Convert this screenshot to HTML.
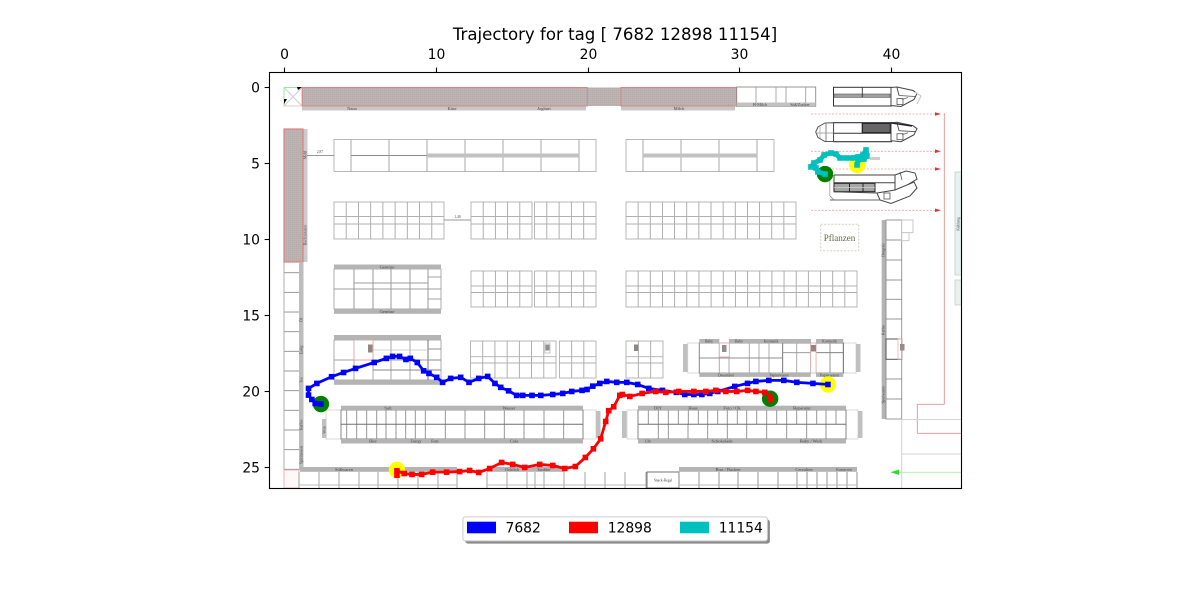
<!DOCTYPE html>
<html lang="en">
<head>
<meta charset="utf-8">
<title>Trajectory for tag</title>
<style>
html,body{margin:0;padding:0;background:#fff;width:1200px;height:600px;overflow:hidden}
svg{display:block;font-family:"DejaVu Sans","Liberation Sans",sans-serif}
</style>
</head>
<body>
<svg id="fig" xmlns="http://www.w3.org/2000/svg" width="1200" height="600" viewBox="0 0 1200 600">
  <defs>
    <filter id="soft" x="-2%" y="-2%" width="104%" height="104%"><feGaussianBlur stdDeviation="0.35"/></filter>
    <pattern id="hatch" width="2" height="2" patternUnits="userSpaceOnUse"><rect width="2" height="2" fill="#bdb3b3"/><rect width="1" height="1" fill="#b6abab"/></pattern>
    <clipPath id="axclip"><rect x="269.5" y="72.5" width="692" height="416"/></clipPath>
  </defs>
  <rect width="1200" height="600" fill="#fff"/>
  <text x="615" y="40" text-anchor="middle" font-size="16.6" fill="#000">Trajectory for tag [ 7682 12898 11154]</text>
  <g id="plan" clip-path="url(#axclip)" filter="url(#soft)"></g>
  <g id="marks" clip-path="url(#axclip)"></g>
  <rect x="269.5" y="72.5" width="692" height="416" fill="none" stroke="#000" stroke-width="1.1"/>
  <g id="xaxis"></g>
  <g id="yaxis"></g>
  <g>
    <rect x="465.4" y="519.6" width="304.5" height="24" rx="2.5" fill="#8c8c8c"/>
    <rect x="462.9" y="516.9" width="304.5" height="24" rx="2.5" fill="#fff" stroke="#cccccc" stroke-width="1"/>
    <g>
      <rect x="467" y="521.7" width="29" height="11.6" fill="#0000ff"/>
      <text x="505.5" y="532.4" font-size="13.89">7682</text>
    </g>
    <g>
      <rect x="569" y="521.7" width="29" height="11.6" fill="#ff0000"/>
      <text x="607.7" y="532.4" font-size="13.89">12898</text>
    </g>
    <g>
      <rect x="680" y="521.7" width="29" height="11.6" fill="#00bfbf"/>
      <text x="718.7" y="532.4" font-size="13.89">11154</text>
    </g>
  </g>
</svg>
<script>
/* ---------- chart data (x / y in plot units) ---------- */
const xTicks = [0, 10, 20, 30, 40];
const yTicks = [0, 5, 10, 15, 20, 25];

const blueX = [2.39,2.01,1.79,1.57,1.57,2.12,3.09,3.88,4.67,5.90,6.70,7.11,7.57,7.99,8.28,8.74,9.16,9.51,10.02,10.41,10.94,11.60,12.15,12.79,13.38,13.86,14.24,14.76,15.29,15.69,16.30,16.88,17.67,18.33,18.92,19.60,19.93,20.31,20.77,21.23,21.89,22.55,23.27,24.00,24.90,25.82,26.37,26.97,27.50,28.02,28.55,29.67,30.51,31.06,31.91,32.90,33.76,34.82,35.81];
const blueY = [20.84,20.80,20.54,20.25,19.81,19.48,19.04,18.76,18.49,18.10,17.83,17.70,17.70,17.90,17.83,18.10,18.65,18.82,19.08,19.41,19.15,19.08,19.41,19.15,19.02,19.48,19.74,19.97,20.27,20.27,20.27,20.27,20.21,20.14,20.01,19.94,19.88,19.66,19.48,19.35,19.41,19.41,19.55,19.81,19.94,20.07,20.21,20.21,20.21,20.14,20.01,19.68,19.48,19.35,19.28,19.28,19.41,19.48,19.55];

const redX = [7.40,7.40,7.88,8.39,9.03,9.75,10.67,11.53,12.19,12.79,13.51,14.30,15.03,15.82,16.81,17.67,18.46,19.16,19.82,20.35,20.83,21.16,21.36,21.69,22.09,22.26,22.75,23.56,24.46,25.12,25.98,26.97,27.76,28.42,29.08,29.80,30.51,31.06,31.65,31.98,32.05];
const redY = [25.53,25.24,25.42,25.48,25.48,25.33,25.33,25.29,25.22,25.35,25.09,24.69,24.82,25.02,24.82,24.89,25.09,24.96,24.36,23.79,23.13,21.99,21.28,21.02,20.27,20.21,20.34,20.14,20.01,20.07,20.01,20.01,20.01,19.94,20.01,20.01,19.94,20.01,20.07,20.34,20.54];

const cyanX = [35.62,35.15,35.02,34.69,34.89,35.29,35.56,36.01,36.34,36.61,37.01,37.40,37.79,38.12,38.32,38.38,38.18,37.79,37.73];
const cyanY = [5.68,5.54,5.28,5.21,4.95,4.75,4.42,4.29,4.36,4.62,4.62,4.62,4.55,4.42,4.09,4.49,4.69,4.75,5.08];

const startX = [2.39, 32.00, 35.62];
const startY = [20.84, 20.49, 5.68];
const endX = [35.81, 7.40, 37.74];
const endY = [19.55, 25.18, 5.08];

const seriesNames = ['7682', '12898', '11154'];

/* ---------- axis functions ---------- */
function xScale(v) { return 284.7 + 15.17 * v; }
function yScale(v) { return 87.9 + 15.17 * v; }

const NS = 'http://www.w3.org/2000/svg';
const plan = document.getElementById('plan');
const marks = document.getElementById('marks');
const xaxis = document.getElementById('xaxis');
const yaxis = document.getElementById('yaxis');

/* ---------- axes ---------- */
xTicks.forEach(function (t) {
  const px = Math.floor(xScale(t)) + 0.5;
  const tick = document.createElementNS(NS, 'line');
  
  
  tick.setAttribute('x1', px); tick.setAttribute('x2', px);
  tick.setAttribute('y1', 72.5); tick.setAttribute('y2', 67.6);
  tick.setAttribute('stroke', '#000'); tick.setAttribute('stroke-width', 1.1);
  xaxis.appendChild(tick);
  const label = document.createElementNS(NS, 'text');
  
  
  label.setAttribute('x', px); label.setAttribute('y', 59);
  label.setAttribute('text-anchor', 'middle'); label.setAttribute('font-size', 13.89);
  label.textContent = t;
  xaxis.appendChild(label);
});
yTicks.forEach(function (t) {
  const py = Math.floor(yScale(t)) + 0.5;
  const tick = document.createElementNS(NS, 'line');
  
  
  tick.setAttribute('x1', 269.5); tick.setAttribute('x2', 264.6);
  tick.setAttribute('y1', py); tick.setAttribute('y2', py);
  tick.setAttribute('stroke', '#000'); tick.setAttribute('stroke-width', 1.1);
  yaxis.appendChild(tick);
  const label = document.createElementNS(NS, 'text');
  
  
  label.setAttribute('x', 260); label.setAttribute('y', py + 5.2);
  label.setAttribute('text-anchor', 'end'); label.setAttribute('font-size', 13.89);
  label.textContent = t;
  yaxis.appendChild(label);
});

/* ---------- floor plan backdrop (picture, not data) ---------- */
function R(x, y, w, h, fill, stroke, sw) {
  const el = document.createElementNS(NS, 'rect');
  
  
  el.setAttribute('x', x); el.setAttribute('y', y);
  el.setAttribute('width', w); el.setAttribute('height', h);
  el.setAttribute('fill', fill || 'none');
  if (stroke) { el.setAttribute('stroke', stroke); el.setAttribute('stroke-width', sw || 1); }
  plan.appendChild(el);
}
function L(x1, y1, x2, y2, stroke, sw, dash) {
  const el = document.createElementNS(NS, 'line');
  
  
  el.setAttribute('x1', x1); el.setAttribute('y1', y1);
  el.setAttribute('x2', x2); el.setAttribute('y2', y2);
  el.setAttribute('stroke', stroke || '#a6a6a6');
  el.setAttribute('stroke-width', sw || 1);
  if (dash) el.setAttribute('stroke-dasharray', dash);
  plan.appendChild(el);
}
function P(points, fill, stroke, sw) {
  const el = document.createElementNS(NS, 'polygon');
  
  
  el.setAttribute('points', points);
  el.setAttribute('fill', fill || 'none');
  if (stroke) { el.setAttribute('stroke', stroke); el.setAttribute('stroke-width', sw || 1); }
  plan.appendChild(el);
}
function T(x, y, s, size, rot, color, family) {
  const el = document.createElementNS(NS, 'text');
  
  
  el.setAttribute('x', x); el.setAttribute('y', y);
  el.setAttribute('font-size', size || 4.5);
  el.setAttribute('text-anchor', 'middle');
  el.setAttribute('fill', color || '#444');
  el.setAttribute('font-family', family || '"Liberation Serif", serif');
  if (rot) el.setAttribute('transform', 'rotate(' + rot + ' ' + x + ' ' + y + ')');
  el.textContent = s;
  plan.appendChild(el);
}
function shelf(x1, x2, y1, y2, n, hs, col) {
  R(x1, y1, x2 - x1, y2 - y1, '#fff', col || '#b0b0b0', 0.9);
  for (let i = 1; i < n; i++) {
    const x = x1 + (x2 - x1) * i / n;
    L(x, y1, x, y2, col || '#a6a6a6', 0.9);
  }
  (hs || []).forEach(function (h) { L(x1, h, x2, h, col || '#b0b0b0', 0.9); });
}
const DARK = '#707070';
const PINK = '#e58f8f';

/* top wall */
R(284, 87.5, 18, 18.5, '#fff', '#e8c8c8', 1);
L(284, 87.5, 302, 106, '#cfcfcf', 1); L(302, 87.5, 284, 106, '#cfcfcf', 1);
L(284, 87.5, 284, 106, '#9be59b', 1); L(284, 87.5, 298, 87.5, '#9be59b', 1);
P('297,87 302,87 298,90', '#000'); P('284,99 287,99 284,104', '#000');
R(587, 87.5, 34, 18.5, 'url(#hatch)');
R(302, 106, 284, 4.5, '#c8c8c8');
R(621, 106, 114, 4.5, '#c8c8c8');
R(302.3, 87.5, 285, 18.5, 'url(#hatch)', '#d98484', 1);
R(621, 87.5, 115.5, 18.5, 'url(#hatch)', '#d98484', 1);
T(352, 109.8, 'Nano'); T(452, 109.8, 'Käse'); T(544, 109.8, 'Joghurt'); T(679, 109.8, 'Milch');
R(736.7, 87, 79, 19.5, '#fff', '#8c8c8c', 0.9);
[756, 776, 786, 805.7].forEach(function (x) { L(x, 87, x, 103, '#a0a0a0', 0.9); });
R(736.7, 102.5, 79, 4.2, '#c2c2c2');
T(760, 106, 'H-Milch', 4.2); T(800, 106, 'Süß/Zucker', 4.2);

/* left wall */
R(303, 129, 4.5, 133, '#cbcbcb');
R(284, 129, 19, 133, 'url(#hatch)', '#df7f7f', 1.2);
T(306.5, 155, 'Mehl', 4, -90); T(306.5, 235, 'Backzutaten', 4.2, -90);
R(299, 262, 4.5, 208, '#bdbdbd');
for (let i = 0; i < 11; i++) { L(284, 272.7 + i * 19.66, 299, 272.7 + i * 19.66, '#8f8f8f', 0.9); }
L(284, 262, 284, 470, '#a6a6a6', 0.9);
R(284, 470, 15, 18, '#fff8f8', '#e8b0b0', 0.9);
R(299, 467, 4, 3, '#bdbdbd');
T(302.5, 320, 'Öl', 4, -90); T(302.5, 350, 'Essig', 4, -90); T(302.5, 380, 'Tee', 4, -90); T(302.5, 425, 'Kaffee', 4, -90); T(302.5, 455, 'Spirituosen', 4, -90);

/* row 1 */
R(334, 139.5, 262, 32, '#fff', '#b0b0b0', 0.9);
[351, 389, 427, 465, 503, 541, 579].forEach(function (x) { L(x, 139.5, x, 171.5, '#a8a8a8', 1); });
L(351, 155.5, 427, 155.5, '#8c8c8c', 0.9);
R(427, 153.5, 152, 4, '#c2c2c2');
L(307, 155.5, 334, 155.5, '#777', 0.7); T(320, 153, '2,87', 3.6);
R(626, 139.5, 148, 32, '#fff', '#b0b0b0', 0.9);
[643, 681, 719, 757].forEach(function (x) { L(x, 139.5, x, 171.5, '#a8a8a8', 1); });
R(643, 153.5, 114, 4, '#c2c2c2');

/* row 2 */
shelf(334, 444, 202, 239, 9, [216.5, 224]);
shelf(471, 532, 202, 239, 5, [216.5, 224]);
shelf(534.5, 596, 202, 239, 5, [216.5, 224]);
shelf(626, 796, 202, 239, 14, [216.5, 224]);
L(444, 220, 471, 220, '#777', 0.7); T(457.5, 218, '1,40', 3.6);

/* row 3 */
R(334, 269, 107, 40, '#fff', '#a6a6a6', 0.9);
[354, 373, 391, 410, 428].forEach(function (x) { L(x, 269, x, 309, '#909090', 0.9); });
L(354, 283, 428, 283, '#9c9c9c', 0.9); L(334, 289, 441, 289, '#9c9c9c', 0.9); L(428, 277, 441, 277, '#9c9c9c', 0.9); L(428, 299, 441, 299, '#9c9c9c', 0.9);
R(334, 264.5, 107, 4.8, '#b4b4b4'); R(334, 309, 107, 4.8, '#b4b4b4');
T(387, 268.6, 'Gemüse'); T(387, 313.2, 'Gemüse');
shelf(471, 532, 271, 307, 5, [286, 292.5]);
shelf(534.5, 596, 271, 307, 5, [286, 292.5]);
shelf(626, 857, 271, 307, 19, [286, 292.5]);

/* row 4 */
R(334, 340, 107, 40, '#fff', '#a6a6a6', 0.9);
[354, 373, 391, 410].forEach(function (x) { L(x, 340, x, 380, '#a0a0a0', 0.9); });
L(428, 340, 428, 380, '#666', 0.9);
L(334, 360, 441, 360, '#a0a0a0', 0.9); L(354, 350, 428, 350, '#c0c0c0', 0.8); L(373, 370, 441, 370, '#888', 0.9);
L(428, 349, 441, 349, '#888', 0.9); L(428, 360, 441, 360, '#888', 0.9);
R(354, 340, 19, 20, '#fff', '#e8a7a7', 0.9);
R(368, 344.5, 4.5, 8, '#8f8686');
R(334, 335, 107, 4.8, '#b4b4b4'); R(334, 380, 107, 4.8, '#b4b4b4');
shelf(470.5, 556, 341, 378, 7, [356.7, 363]);
R(545, 343, 5, 10, '#fff', '#bbb', 0.8); R(545.5, 344.5, 4, 6, '#8f8f8f');
shelf(559.5, 596, 341, 378, 3, [356.7, 363]);
shelf(626, 663, 341, 378, 3, [356.7, 363]);
R(634, 344.5, 4.5, 6.5, '#8f8686');

/* lower left aisle */
R(326, 410, 15, 29, '#fff', '#d4d4d4', 0.9);
R(322, 419, 4.5, 19, '#c0c0c0');
T(325.5, 430, 'Wein', 3.6, -90);
R(583, 410, 13, 29, '#fff', '#d4d4d4', 0.9);
R(596, 411, 4.5, 27, '#c0c0c0');
R(341, 410, 242, 29, '#fff', '#7a7a7a', 0.9);
[346.7, 356.7, 366.7, 376.7, 386, 396, 405.7, 415.3, 425.3, 445.3, 465, 484.7, 504.3, 524, 544, 563.7].forEach(function (x) { L(x, 410, x, 439, '#8c8c8c', 0.9); });
L(341, 424.3, 583, 424.3, DARK, 1);
R(341, 405.7, 242, 4.5, '#b4b4b4'); R(341, 439, 242, 4.5, '#b4b4b4');
T(388, 409.4, 'Saft'); T(509, 409.4, 'Wasser'); T(373, 442.7, 'Bier'); T(416, 442.7, 'Energy', 3.8); T(435, 442.7, 'Fette', 3.8); T(514, 442.7, 'Cola');

/* lower right aisle */
R(627, 410, 11, 29, '#fff', '#d4d4d4', 0.9);
R(622, 411, 4.5, 27, '#c0c0c0');
R(846, 410, 12, 29, '#fff', '#d4d4d4', 0.9);
R(858, 411, 4.5, 27, '#c0c0c0');
R(638, 410, 208, 29, '#fff', '#7a7a7a', 0.9);
[648.3, 658.3, 668.3, 678.3, 688.3, 698.3, 707.7, 717.7, 727.3, 737.3, 746.7, 756.7, 766.7, 776.7, 786.7, 796.7, 806.7, 816.7, 826, 836].forEach(function (x) { L(x, 410, x, 424.3, '#8c8c8c', 0.9); });
[658.3, 668.3, 688, 707.7, 727.3, 746.7, 766.7, 786.7, 806.7, 826].forEach(function (x) { L(x, 424.3, x, 439, '#8c8c8c', 0.9); });
L(638, 424.3, 846, 424.3, DARK, 1);
R(638, 405.7, 208, 4.5, '#b4b4b4'); R(638, 439, 208, 4.5, '#b4b4b4');
T(658, 409.4, 'DIY'); T(693, 409.4, 'Haus'); T(732, 409.4, 'Foto / Ok'); T(802, 409.4, 'Reparatur'); T(648, 442.7, 'Uhr', 3.8); T(722, 442.7, 'Schokolade'); T(811, 442.7, 'Baby / Werk');

/* bottom shelves */
[299, 319, 339, 359, 378, 398, 418, 438, 457, 487, 507, 527, 535, 544, 564, 585, 605, 625, 646].forEach(function (x) { L(x, 472, x, 488, '#9a9a9a', 0.9); });
L(299, 485, 457, 485, '#bbbbbb', 0.9); L(487, 485, 646, 485, '#bbbbbb', 0.9);
R(300, 467, 157, 4.8, '#b4b4b4'); R(487, 467, 78, 4.8, '#b4b4b4');
T(344, 471, 'Süßwaren'); T(512, 471, 'Ochlick'); T(544, 471, 'Knabber', 3.8);
R(647, 472, 32, 16, '#fff', '#666', 0.9);
T(663, 481.5, 'Snack-Regal', 3.6);
R(679, 467, 178, 4.8, '#b4b4b4');
[679, 699, 719, 738, 758, 778, 797, 807, 817, 827, 837, 847, 857].forEach(function (x) { L(x, 472, x, 488, '#888', 0.9); });
L(679, 485, 857, 485, '#bbbbbb', 0.9);
T(728, 471, 'Brot / Backen'); T(804, 471, 'Cerealien'); T(844, 471, 'Konserven', 3.6);

/* right block middle */
R(687.7, 343, 11.5, 30, '#fff', '#d4d4d4', 0.9);
R(683, 344, 4.5, 28, '#c0c0c0');
R(843, 343, 13, 30, '#fff', '#d4d4d4', 0.9);
R(856, 344, 4.5, 28, '#c0c0c0');
R(699.3, 343, 83.5, 30, '#fff', '#808080', 0.9);
R(782.7, 343, 28, 30, '#fff', '#707070', 0.9);
R(816, 343, 27.3, 30, '#fff', '#555', 0.9);
[719.3, 729, 749.3, 759, 769].forEach(function (x) { L(x, 343, x, 373, '#a6a6a6', 0.9); });
L(699.3, 358, 782.7, 358, '#909090', 0.9); L(782.7, 352.7, 810.7, 352.7, '#909090', 0.9); L(816, 352.7, 843.3, 352.7, '#707070', 0.9);
L(796.7, 343, 796.7, 373, '#a0a0a0', 0.9); L(830, 343, 830, 373, '#8a8a8a', 0.9);
R(719.3, 343, 10, 14, '#fff', '#e8a7a7', 0.9); R(722, 345, 4.5, 7, '#8f8f8f');
R(810.7, 343, 5.3, 30, '#fff', '#e8b5b5', 0.9); R(811, 345, 5, 6.5, '#9a8080');
R(699.3, 339, 20, 4.2, '#b4b4b4'); R(729, 339, 82, 4.2, '#b4b4b4'); R(816, 339, 27.3, 4.2, '#b4b4b4');
R(699.3, 372.7, 111.5, 4.2, '#b4b4b4'); R(816, 372.7, 27.3, 4.2, '#b4b4b4');
T(709, 342.6, 'Baby', 3.8); T(739, 342.6, 'Baby', 3.8); T(771, 342.6, 'Kosmetik', 3.8); T(829.5, 342.6, 'Kosmetik', 3.8);
T(726, 376.3, 'Deoartikel', 3.8); T(779, 376.3, 'Papierwaren', 3.8); T(829.5, 376.3, 'Papierwaren', 3.8);

/* right column */
R(881.7, 220, 4.5, 199, '#b4b4b4');
R(886, 220, 15.7, 199, '#fff', '#909090', 0.9);
[240, 260, 280, 299.3, 319, 379, 399].forEach(function (y) { L(886, y, 901.7, y, '#8c8c8c', 0.9); });
R(886, 339, 15.7, 20.3, '#fff', '#555', 1);
R(901.7, 220, 11.3, 12.7, '#fff', '#c4c4c4', 0.9);
R(901.7, 232.7, 7.3, 8, '#fff', '#c4c4c4', 0.9);
R(898, 339, 3.7, 20, 'none', '#e8b5b5', 0.8); R(900, 344, 4.5, 6.5, '#9a8a8a');
T(884.7, 250, 'Drogerie', 3.8, -90); T(884.7, 330, 'Kaffee', 3.8, -90); T(884.7, 395, 'Spielwaren', 3.8, -90);

/* checkout displays top right */
function nose(top) {
  P('891,' + top + ' 897,' + (top - 0.5) + ' 913,' + (top + 3) + ' 917,' + (top + 6) + ' 914,' + (top + 12) + ' 901,' + (top + 19) + ' 891,' + (top + 18), '#fff', '#444', 1);
  L(897, top, 899, top + 8, '#444', 0.9);
  L(899, top + 8, 915, top + 9, '#555', 0.8);
  R(897, top + 11, 6, 6, '#fff', '#555', 0.8);
  L(902, top + 12, 908, top + 10, '#666', 0.8);
}
R(833.5, 87.3, 58, 18.7, '#fff', '#333', 1);
R(834, 94, 56, 3.4, '#a0a0a0', '#555', 0.6);
L(862.3, 87.3, 862.3, 97.4, '#333', 0.9);
nose(87.5);
L(915, 92, 921, 96, '#c8c8c8', 1.1); L(921, 96, 917, 104, '#c8c8c8', 1.1);
R(833.5, 122.7, 58, 19, '#fff', '#333', 1.1);
R(862.3, 123.3, 28, 9.4, '#666666', '#222', 1.2);
L(833.5, 133.3, 891, 133.3, '#333', 1);
nose(122.7);
L(891, 122.9, 912, 126, '#222', 1.4);
P('833.5,122.7 825,123 818,127 815.7,132 818,137.5 825,141.5 833.5,141.5', '#fff', '#555', 1);
L(826, 123, 826, 141, '#777', 0.9); L(817, 133, 833, 133, '#999', 0.8); L(820,127,820,138,'#aaa',0.8);
R(870, 157, 10, 3, '#cccccc');
L(834, 175, 895, 175, '#444', 1); L(834, 182.7, 895, 182.7, '#444', 1); L(834, 175, 834, 192, '#444', 1);
L(830, 196, 834, 200, '#999', 0.9); L(829.8, 174, 829.8, 196, '#aaa', 0.9); L(830, 200, 880, 200, '#666', 1);
R(834, 183.3, 41, 8.4, '#a6a6a6', '#222', 1);
L(849.5, 183.3, 849.5, 191.7, '#222', 1); L(863, 183.3, 863, 191.7, '#222', 1);
L(834, 187.5, 875, 187.5, '#d0d0d0', 0.8);
L(834, 191.7, 877, 193, '#444', 1);
P('895,175 906,171 915,173 917,179 904,187 895,192', '#fff', '#444', 1);
P('877,193 895,190 914,182 917,188 910,196 891,203.5 880,200', '#fff', '#444', 1);
R(884, 193, 6, 6, '#fff', '#555', 0.8);
L(900, 172, 902, 180, '#555', 0.8);

/* red guide lines */
[114, 151.3, 169, 210.3].forEach(function (y) {
  L(811, y, 936, y, '#f4a0a0', 0.8, '2 1.5');
  P('935,' + (y - 1.8) + ' 941,' + y + ' 935,' + (y + 1.8), '#e83030');
});
L(944.3, 113, 944.3, 404.3, PINK, 0.9);
L(944.3, 404.3, 917.3, 404.3, PINK, 0.9);
L(917.3, 404.3, 917.3, 433.3, PINK, 0.9);
L(917.3, 433.3, 961, 433.3, PINK, 0.9);

/* pale structure bottom right */
L(901.7, 419, 901.7, 488, '#d6d6d6', 1.1);
L(901.7, 419.5, 961, 419.5, '#d6d6d6', 0.9);
L(901.7, 454, 961, 454, '#d6d6d6', 0.9);
L(896, 472.3, 961, 472.3, '#a4f0a4', 0.8);
P('890.5,472.3 899,469.5 899,475', '#2fe02f');

/* cool aisle on the right edge */
R(955, 172, 7, 103, '#e4f2f2', '#b8c8c8', 0.7);
R(955, 280, 7, 25, '#e8f0f0', '#c0c8c8', 0.7);
T(959.5, 224, 'Kühlung', 3.8, -90);

/* plants */
R(820.7, 224.3, 38, 26.4, '#fff', '#cfd2bf', 1);
plan.lastChild.setAttribute('stroke-dasharray', '2 1.5');
T(839.5, 241, 'Pflanzen', 9, 0, '#666644');

/* ---------- series ---------- */
function drawDots(xs, ys, colour, name) {
  xs.forEach(function (v, i) {
    const c = document.createElementNS(NS, 'circle');
    
    
    c.setAttribute('cx', xScale(v));
    c.setAttribute('cy', yScale(ys[i]));
    c.setAttribute('r', 8.2);
    c.setAttribute('fill', colour);
    marks.appendChild(c);
  });
}
function drawSeries(xs, ys, colour, name) {
  const path = document.createElementNS(NS, 'polyline');
  
  
  path.setAttribute('points', xs.map(function (v, i) { return xScale(v) + ',' + yScale(ys[i]); }).join(' '));
  path.setAttribute('fill', 'none');
  path.setAttribute('stroke', colour);
  path.setAttribute('stroke-width', name === '11154' ? 4.8 : 2.8);
  path.setAttribute('stroke-linejoin', 'round');
  marks.appendChild(path);
  xs.forEach(function (v, i) {
    const m = document.createElementNS(NS, 'rect');
    
    
    m.setAttribute('x', xScale(v) - 2.8);
    m.setAttribute('y', yScale(ys[i]) - 2.8);
    m.setAttribute('width', 5.6);
    m.setAttribute('height', 5.6);
    m.setAttribute('fill', colour);
    marks.appendChild(m);
  });
}
drawDots(endX, endY, '#ffff00', 'trajectory-end-marker');
drawDots(startX, startY, '#008000', 'trajectory-start-marker');
drawSeries(blueX, blueY, '#0000ff', seriesNames[0]);
drawSeries(redX, redY, '#ff0000', seriesNames[1]);
drawSeries(cyanX, cyanY, '#00bfbf', seriesNames[2]);
</script>
</body>
</html>
